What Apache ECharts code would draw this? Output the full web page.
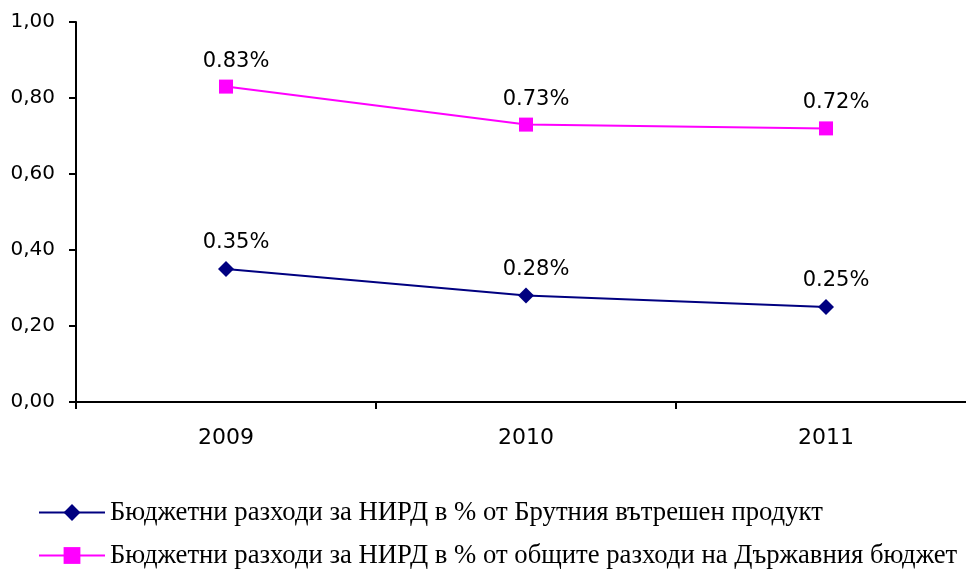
<!DOCTYPE html>
<html lang="bg">
  <head>
    <meta charset="UTF-8" />
    <title>Бюджетни разходи за НИРД</title>
    <script src="https://cdn.jsdelivr.net/npm/echarts@6/dist/echarts.min.js"></script>
    <style>
      html, body { margin: 0; padding: 0; background: #fff; }
    </style>
  </head>
  <body>
    <div id="main" style="width: 966px; height: 570px"></div>

    <script>
      // данни, отчетени от графиката
      const years = ['2009', '2010', '2011']
      const gdpShare = [0.35, 0.28, 0.25] // % от БВП
      const budgetShare = [0.83, 0.73, 0.72] // % от разходите на държавния бюджет
      const seriesNames = [
        'Бюджетни разходи за НИРД в % от Брутния вътрешен продукт',
        'Бюджетни разходи за НИРД в % от общите разходи на Държавния бюджет',
      ]

      const labelFont = 'DejaVu Sans'
      const chart = echarts.init(document.getElementById('main'))

      const pctLabel = {
        show: true,
        position: 'top',
        distance: 8,
        offset: [10, 0],
        color: '#000',
        fontFamily: labelFont,
        fontSize: 21,
        formatter: p => p.value.toFixed(2) + '%',
      }

      // по една легенда на ред, за да стоят една под друга
      function legendRow(name, top) {
        return {
          orient: 'vertical',
          left: 38,
          top: top,
          itemWidth: 66,
          itemHeight: 21,
          padding: 0,
          textStyle: { color: '#000', fontFamily: 'Liberation Serif', fontSize: 26.7, lineHeight: 26 },
          data: [name],
        }
      }

      const options = {
        animation: false,
        // оста x излиза извън десния край на картинката
        grid: { left: 76, width: 900, top: 22, bottom: 168, outerBoundsMode: 'none', containLabel: false },
        xAxis: {
          type: 'category',
          data: years,
          boundaryGap: true,
          axisLine: { lineStyle: { color: '#000', width: 2 } },
          axisTick: { show: true, length: 7, lineStyle: { color: '#000', width: 2 } },
          axisLabel: { color: '#000', fontFamily: labelFont, fontSize: 22, margin: 25 },
          splitLine: { show: false },
        },
        yAxis: {
          type: 'value',
          min: 0,
          max: 1,
          interval: 0.2,
          axisLine: { show: true, lineStyle: { color: '#000', width: 2 } },
          axisTick: { show: true, length: 7, lineStyle: { color: '#000', width: 2 } },
          axisLabel: {
            color: '#000',
            fontFamily: labelFont,
            fontSize: 20,
            margin: 21,
            formatter: v => v.toFixed(2).replace('.', ','),
          },
          splitLine: { show: false },
        },
        legend: [legendRow(seriesNames[0], 499), legendRow(seriesNames[1], 542)],
        series: [
          {
            name: seriesNames[0],
            type: 'line',
            data: gdpShare,
            symbol: 'diamond',
            symbolSize: 16,
            color: '#000080',
            lineStyle: { color: '#000080', width: 2 },
            itemStyle: { color: '#000080' },
            label: pctLabel,
          },
          {
            name: seriesNames[1],
            type: 'line',
            data: budgetShare,
            symbol: 'rect',
            symbolSize: 14,
            color: '#ff00ff',
            lineStyle: { color: '#ff00ff', width: 2 },
            itemStyle: { color: '#ff00ff' },
            label: pctLabel,
          },
        ],
      }

      chart.setOption(options)
    </script>
  </body>
</html>
